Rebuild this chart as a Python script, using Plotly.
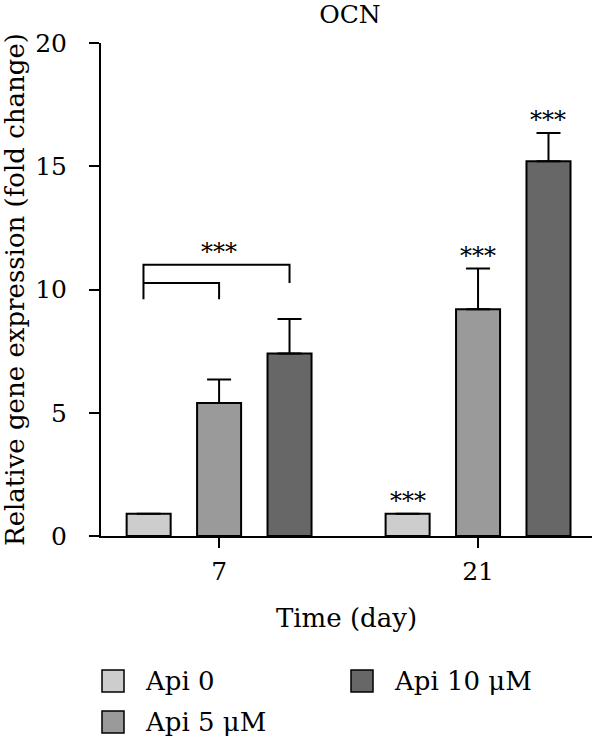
import plotly.graph_objects as go

# ---- data ----
days = ["7", "21"]
groups = ["Api 0", "Api 5 \u03bcM", "Api 10 \u03bcM"]
means = {
    "Api 0": [0.9, 0.9],
    "Api 5 \u03bcM": [5.4, 9.2],
    "Api 10 \u03bcM": [7.4, 15.2],
}
errors = {
    "Api 0": [0.0, 0.0],
    "Api 5 \u03bcM": [0.95, 1.65],
    "Api 10 \u03bcM": [1.4, 1.15],
}
colors = ["#cdcdcd", "#9a9a9a", "#676767"]
# significance marks above day-21 bars
sig21 = ["***", "***", "***"]
# bracket for day 7 (Api 0 vs Api 5 / Api 10)
bracket_levels = [9.6, 10.26, 11.0]
y_ticks = [0, 5, 10, 15, 20]

FONT = "DejaVu Serif"
W, H = 600, 740
ML, MR, MT, MB = 101, 8, 43, 204
xpos = list(range(len(days)))
xrange_ = [-0.456, 1.44]
slot = 0.272  # group offset between bars (in x units)

fig = go.Figure()
for i, g in enumerate(groups):
    fig.add_trace(go.Bar(
        name=g,
        x=xpos,
        y=means[g],
        marker=dict(color=colors[i], line=dict(color="black", width=2)),
        error_y=dict(type="data", array=errors[g], arrayminus=[0] * len(days),
                     symmetric=False, visible=True, color="black",
                     thickness=2, width=12),
        showlegend=False,
    ))

shapes = []
annotations = []

# significance on day 21
for i, g in enumerate(groups):
    top = means[g][1] + errors[g][1]
    annotations.append(dict(
        x=xpos[1] + (i - 1) * slot, y=top, xref="x", yref="y",
        text=sig21[i], showarrow=False, yanchor="bottom", yshift=-3,
        font=dict(family=FONT, size=24, color="black")))

# bracket day 7
xL = xpos[0] - slot - 0.02
xR2 = xpos[0]
xR3 = xpos[0] + slot
lo, mid, hi = bracket_levels
shapes.append(dict(type="path", xref="x", yref="y",
                   path=f"M {xL},{lo} L {xL},{hi} L {xR3},{hi} L {xR3},{mid}",
                   line=dict(color="black", width=2)))
shapes.append(dict(type="path", xref="x", yref="y",
                   path=f"M {xL},{mid} L {xR2},{mid} L {xR2},{lo}",
                   line=dict(color="black", width=2)))
annotations.append(dict(x=xpos[0], y=hi, xref="x", yref="y", text="***",
                        showarrow=False, yanchor="bottom", yshift=-3,
                        font=dict(family=FONT, size=24, color="black")))

# manual legend (pixel layout -> paper coords)
pw, ph = W - ML - MR, H - MT - MB
def px(xp):
    return (xp - ML) / pw
def py(yp):
    return (H - MB - yp) / ph

leg_items = [(101, 669), (101, 710), (350, 669)]
for i, g in enumerate(groups):
    x0, y0 = leg_items[i]
    shapes.append(dict(type="rect", xref="paper", yref="paper",
                       x0=px(x0 + 1), x1=px(x0 + 23), y0=py(y0 + 23), y1=py(y0 + 1),
                       fillcolor=colors[i], line=dict(color="black", width=1.5)))
    annotations.append(dict(x=px(x0 + 42), y=py(y0 + 12), xref="paper", yref="paper",
                            text=g, showarrow=False, xanchor="left", yanchor="middle",
                            font=dict(family=FONT, size=26, color="black")))

fig.update_layout(
    width=W, height=H,
    margin=dict(l=ML, r=MR, t=MT, b=MB, pad=0),
    paper_bgcolor="white", plot_bgcolor="white",
    barmode="group", bargap=0.184, bargroupgap=0.375,
    title=dict(text="OCN", x=(ML + 249) / W, xanchor="center", y=0.993, yanchor="top",
               yref="container", pad=dict(t=0),
               font=dict(family=FONT, size=25, color="black")),
    font=dict(family=FONT, color="black"),
    shapes=shapes, annotations=annotations,
)
fig.update_xaxes(
    range=xrange_, tickvals=xpos, ticktext=days,
    showline=True, linecolor="black", linewidth=2,
    ticks="outside", ticklen=10, tickwidth=2, tickcolor="black",
    tickfont=dict(family=FONT, size=25), ticklabelstandoff=2,
    showgrid=False, zeroline=False,
    title=dict(text="Time (day)", font=dict(family=FONT, size=26), standoff=24),
)
fig.update_yaxes(
    range=[0, 20], tickvals=y_ticks,
    showline=True, linecolor="black", linewidth=2,
    ticks="outside", ticklen=10, tickwidth=2, tickcolor="black",
    tickfont=dict(family=FONT, size=25), ticklabelstandoff=17,
    showgrid=False, zeroline=False,
    title=dict(text="Relative gene expression (fold change)",
               font=dict(family=FONT, size=26), standoff=8),
)

fig.write_html("out.html")
